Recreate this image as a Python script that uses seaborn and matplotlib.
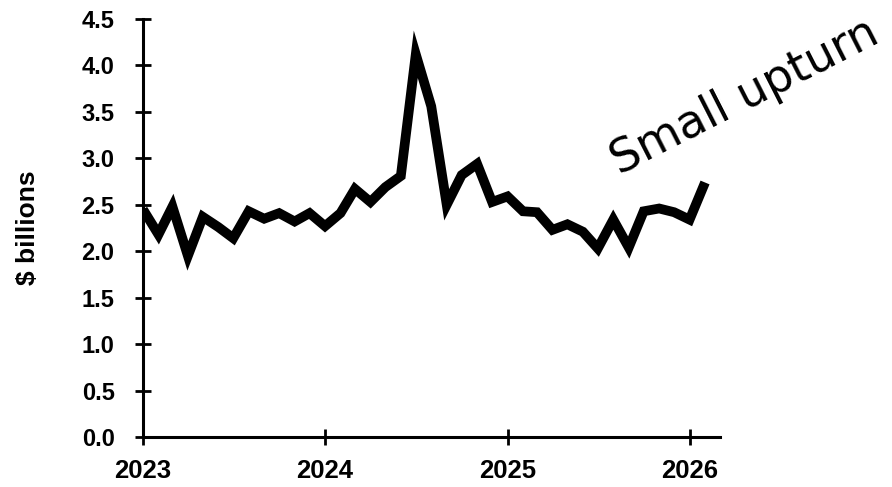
import pandas as pd
import numpy as np
import matplotlib
matplotlib.use('Agg')
import matplotlib.pyplot as plt
import matplotlib.dates as mdates
import seaborn as sns

# monthly values, Jan 2023 .. Feb 2026 ($ billions)
months = pd.date_range('2023-01-01', '2026-02-01', freq='MS')
values = [2.45, 2.18, 2.48, 1.95, 2.37, 2.26, 2.14, 2.43, 2.35, 2.41, 2.32, 2.41,
          2.27, 2.41, 2.67, 2.53, 2.69, 2.81, 4.12, 3.56, 2.50, 2.82, 2.94, 2.53,
          2.59, 2.43, 2.42, 2.23, 2.29, 2.21, 2.03, 2.34, 2.04, 2.43, 2.46, 2.42,
          2.34, 2.74]
year_ticks = ['2023', '2024', '2025', '2026']
y_ticks = [0.0, 0.5, 1.0, 1.5, 2.0, 2.5, 3.0, 3.5, 4.0, 4.5]
y_label = '$ billions'
note = 'Small upturn'

df = pd.DataFrame({'Month': months, 'Value': values})

sns.set_theme(style='ticks')
plt.rcParams['font.family'] = ['Liberation Sans', 'DejaVu Sans']
plt.rcParams['text.color'] = 'black'
plt.rcParams['axes.labelcolor'] = 'black'
plt.rcParams['xtick.color'] = 'black'
plt.rcParams['ytick.color'] = 'black'

fig = plt.figure(figsize=(8.92, 4.87), dpi=100)
ax = fig.add_axes([143 / 892, 50 / 487, (720 - 143) / 892, (437 - 19) / 487])

sns.lineplot(data=df, x='Month', y='Value', ax=ax, color='black', linewidth=7)
for ln in ax.get_lines():
    ln.set_solid_joinstyle('miter')
    ln.set_solid_capstyle('butt')

ax.set_xlim(pd.Timestamp('2023-01-01'), pd.Timestamp('2026-03-03'))
ax.set_ylim(0, 4.5)
ax.set_xticks([pd.Timestamp(f'{y}-01-01') for y in year_ticks])
ax.xaxis.set_major_formatter(mdates.DateFormatter('%Y'))
ax.set_yticks(y_ticks)
ax.set_yticklabels([f'{v:.1f}' for v in y_ticks])

ax.set_xlabel('')
ax.set_ylabel(y_label, fontsize=19, fontweight='bold', labelpad=30, color='black')

for s in ['top', 'right']:
    ax.spines[s].set_visible(False)
for s in ['left', 'bottom']:
    ax.spines[s].set_linewidth(2.2)
    ax.spines[s].set_color('black')

ax.tick_params(axis='both', direction='inout', length=12, width=2, color='black',
               labelcolor='black')
ax.tick_params(axis='y', labelsize=17, pad=14.5)
ax.tick_params(axis='x', labelsize=18.5, pad=9.5)
for lab in ax.get_xticklabels() + ax.get_yticklabels():
    lab.set_fontweight('bold')

fig.text(745 / 892, 1 - 97 / 487, note, fontsize=33, rotation=27,
         ha='center', va='center', rotation_mode='anchor',
         family=['DejaVu Sans'], color='black')

fig.savefig('out.png', dpi=100)
